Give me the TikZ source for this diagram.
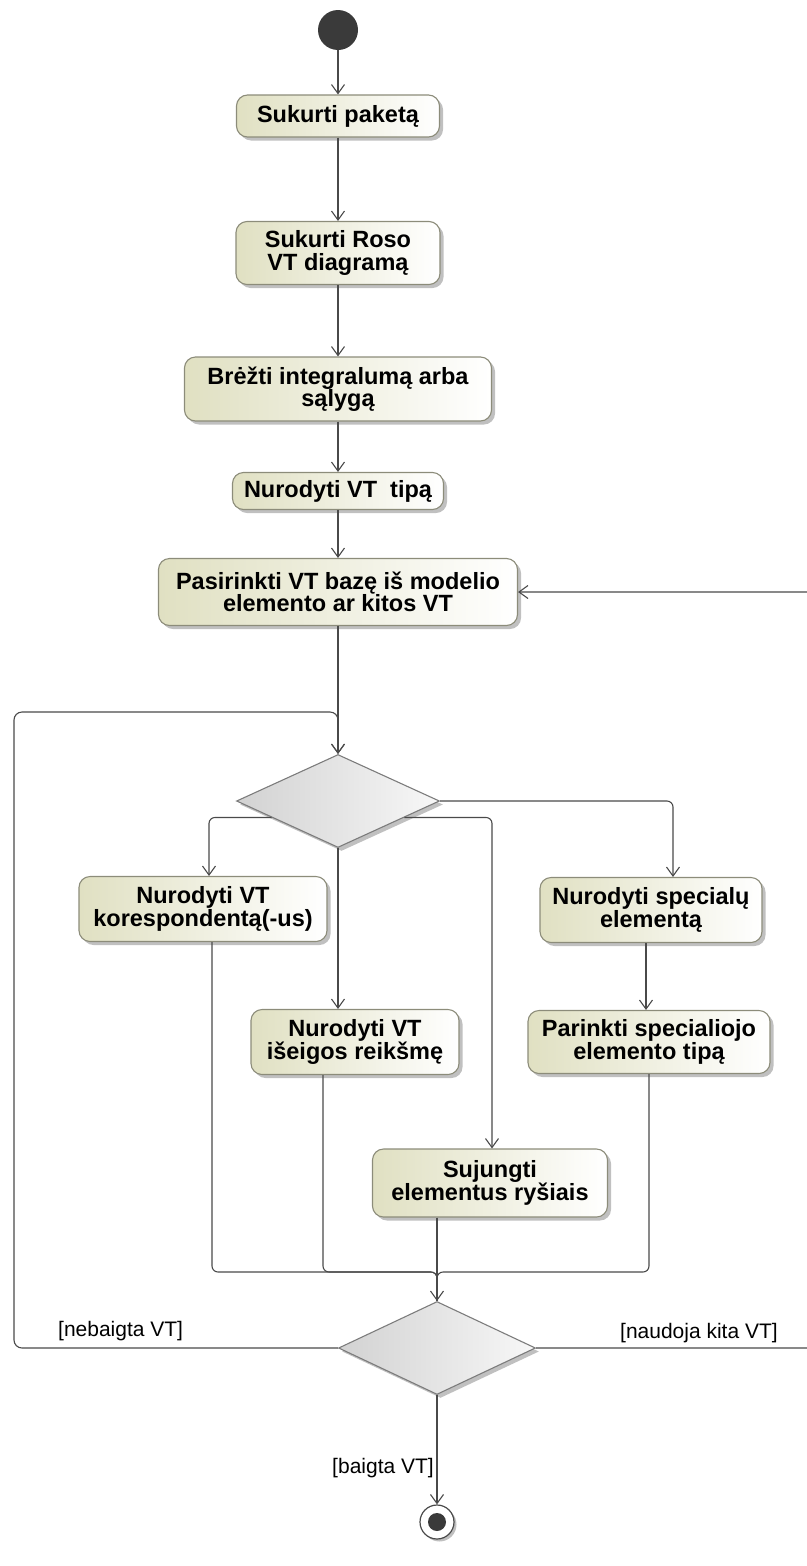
\documentclass[tikz,border=0pt]{standalone}
\usepackage{fontspec}
\setmainfont{Liberation Sans}
\usetikzlibrary{arrows.meta,shapes.geometric,shadows,calc}

\definecolor{linecol}{HTML}{4A4A4A}
\definecolor{boxedge}{HTML}{8C8C7A}
\definecolor{boxfill}{HTML}{E0E0C2}
\definecolor{diafill}{HTML}{D2D2D2}
\definecolor{diaedge}{HTML}{7C7C7C}
\definecolor{shadecol}{HTML}{B0B0B0}
\definecolor{startcol}{HTML}{3A3A3A}

\tikzset{
  action/.style={draw=boxedge, line width=1.1pt, rounded corners=11pt,
    left color=boxfill, right color=white, align=center, inner sep=2pt,
    font=\fontsize{23.5}{22.5}\selectfont\bfseries,
    drop shadow={shadow xshift=3.5pt, shadow yshift=-3.5pt, fill=shadecol, opacity=0.8}},
  decision/.style={shape=diamond, draw=diaedge, line width=1.1pt, inner sep=0pt,
    left color=diafill, right color=gray!6,
    drop shadow={shadow xshift=3.5pt, shadow yshift=-3.5pt, fill=shadecol, opacity=0.8}},
  flow/.style={draw=linecol, line width=1.1pt,
    -{Straight Barb[length=9pt,width=13pt,line width=1.1pt]}},
  plain/.style={draw=linecol, line width=1.1pt},
  guard/.style={font=\fontsize{21}{23}\selectfont, inner sep=0pt}
}

\begin{document}
\begin{tikzpicture}[x=1pt,y=-1pt]
  \useasboundingbox (0,0) rectangle (806,1566);

  % initial node
  \node[circle, fill=startcol, minimum size=40pt, inner sep=0pt] (start) at (338,30) {};

  % main sequence of actions
  \node[action, minimum width=203pt, minimum height=42pt] (b1) at (338,116) {Sukurti paketą};
  \node[action, minimum width=204pt, minimum height=63pt] (b2) at (338,253) {Sukurti Roso\\VT diagramą};
  \node[action, minimum width=307pt, minimum height=64pt] (b3) at (338,389) {Brėžti integralumą arba\\sąlygą};
  \node[action, minimum width=211pt, minimum height=37pt] (b4) at (338,491) {Nurodyti VT\ \ tipą};
  \node[action, minimum width=359pt, minimum height=67pt] (b5) at (338,592) {Pasirinkti VT bazę iš modelio\\elemento ar kitos VT};

  % first decision and its branches
  \node[decision, minimum width=203pt, minimum height=93pt] (d1) at (338,801) {};
  \node[action, minimum width=248pt, minimum height=65pt] (b6) at (203,909) {Nurodyti VT\\korespondentą(-us)};
  \node[action, minimum width=208pt, minimum height=65pt] (b7) at (355,1042) {Nurodyti VT\\išeigos reikšmę};
  \node[action, minimum width=235pt, minimum height=68pt] (b8) at (490,1183) {Sujungti\\elementus ryšiais};
  \node[action, minimum width=222pt, minimum height=65pt] (b9) at (651,910) {Nurodyti specialų\\elementą};
  \node[action, minimum width=242pt, minimum height=63pt] (b10) at (649,1042) {Parinkti specialiojo\\elemento tipą};

  % second decision
  \node[decision, minimum width=197pt, minimum height=93pt] (d2) at (437,1348) {};

  % final node
  \node[circle, draw=linecol, line width=1.2pt, fill=white, minimum size=34pt, inner sep=0pt,
    drop shadow={shadow xshift=2.5pt, shadow yshift=-2.5pt, fill=shadecol, opacity=0.8}] (end) at (437,1522) {};
  \node[circle, fill=startcol, minimum size=18pt, inner sep=0pt] (enddot) at (end) {};

  % merge point above the second decision
  \coordinate (merge) at (437,1272);

  % sequence connectors
  \draw[flow] (start) -- (b1);
  \draw[flow] (b1) -- (b2);
  \draw[flow] (b2) -- (b3);
  \draw[flow] (b3) -- (b4);
  \draw[flow] (b4) -- (b5);
  \draw[flow] (b5) -- (d1.north);

  % branches out of the first decision
  \draw[flow, rounded corners=6pt] ($(d1.west)!0.35!(d1.south)$) -| ($(b6.north)+(6,0)$);
  \draw[flow] (d1.south) -- (d1.south |- b7.north);
  \draw[flow, rounded corners=6pt] ($(d1.east)!0.35!(d1.south)$) -| ($(b8.north)+(2,0)$);
  \draw[flow, rounded corners=6pt] (d1.east) -| ($(b9.north)+(22,0)$);
  \draw[flow] ($(b9.south)+(-5,0)$) -- ($(b10.north)+(-3,0)$);

  % joining into the second decision
  \draw[plain, rounded corners=6pt] ($(b6.south)+(9,0)$) |- (merge) -- (d2.north);
  \draw[plain, rounded corners=6pt] ($(b7.south)+(-32,0)$) |- (merge) -- (d2.north);
  \draw[plain, rounded corners=6pt] (b10.south) |- (merge) -- (d2.north);
  \draw[flow] ($(b8.south)+(-53,0)$) -- (d2.north);

  % loops back from the second decision
  \draw[flow, rounded corners=8pt] (d2.west) -- (14,1348) -- (14,712) -- (338,712) -- (d1.north);
  \draw[flow, rounded corners=8pt] (d2.east) -- (816,1348) -- (816,592) -- (b5.east);
  \draw[flow] (d2.south) -- (end);

  % guards
  \node[guard, anchor=south west] (g1) at (58,1341) {[nebaigta VT]};
  \node[guard, anchor=south west] (g2) at (620,1343) {[naudoja kita VT]};
  \node[guard, anchor=east] (g3) at (434,1468) {[baigta VT]};
\end{tikzpicture}
\end{document}
